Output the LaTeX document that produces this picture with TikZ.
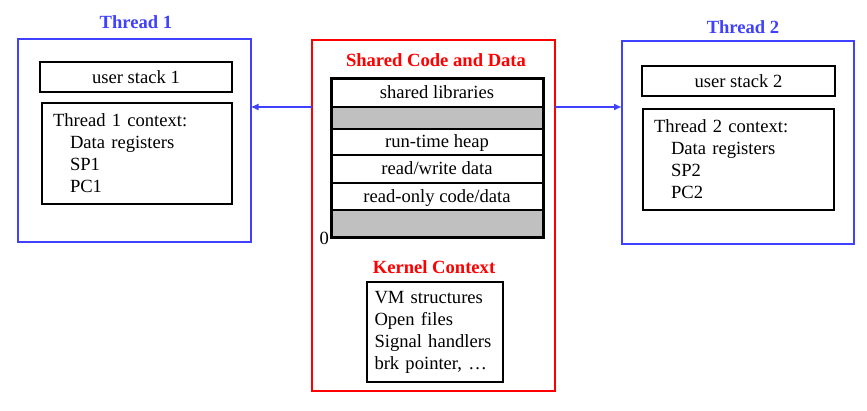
\documentclass[tikz,border=0pt]{standalone}
\usepackage{fontspec}
\setmainfont{Liberation Serif}
\usetikzlibrary{arrows.meta,positioning,calc}
\definecolor{thrblue}{RGB}{64,64,255}
\definecolor{memgray}{RGB}{192,192,192}

\begin{document}
\begin{tikzpicture}[x=1pt,y=-1pt,
    every node/.style={font=\fontsize{18.6}{22}\selectfont},
    outerbox/.style={draw,line width=2pt,inner sep=0pt,outer sep=0pt},
    innerbox/.style={draw,line width=1.8pt,inner sep=0pt,outer sep=0pt},
    ctxbox/.style={innerbox,align=left,inner xsep=11pt,minimum height=101pt},
    memrow/.style={draw,line width=1.3pt,minimum width=212pt,inner sep=0pt,outer sep=0pt,
        text height=14pt,text depth=2pt},
    title/.style={font=\fontsize{18.6}{22}\selectfont\bfseries},
    conn/.style={thrblue,line width=1.6pt,-{Latex[length=8pt,width=7pt]}}]

    \useasboundingbox (0,0) rectangle (867,411);

    % threads
    \node [outerbox,draw=thrblue,minimum width=233pt,minimum height=203pt] (thread1) at (134,140.5) {};
    \node [title,text=thrblue] (thread1title) at (136,22) {Thread 1};
    \node [innerbox,minimum width=192pt,minimum height=30pt] (ustack1) at (136,77) {user stack 1};
    \node [ctxbox,text width=168pt] (ctx1) at (137,153.5) {Thread 1 context:\\\hspace*{17pt}Data registers\\\hspace*{17pt}SP1\\\hspace*{17pt}PC1};

    \node [outerbox,draw=thrblue,minimum width=232pt,minimum height=203pt] (thread2) at (738,142.5) {};
    \node [title,text=thrblue] (thread2title) at (743,27) {Thread 2};
    \node [innerbox,minimum width=193pt,minimum height=30pt] (ustack2) at (738.5,81) {user stack 2};
    \node [ctxbox,text width=169pt] (ctx2) at (738.5,159.5) {Thread 2 context:\\\hspace*{17pt}Data registers\\\hspace*{17pt}SP2\\\hspace*{17pt}PC2};

    % shared code and data
    \node [outerbox,draw=red,minimum width=243pt,minimum height=351pt] (shared) at (433.5,215.5) {};
    \node [title,text=red] (sharedtitle) at (436,60) {Shared Code and Data};
    \node [memrow,minimum height=28pt] (shlib) at (437,93) {shared libraries};
    \node [memrow,minimum height=22pt,fill=memgray,below=0pt of shlib] (gap1) {};
    \node [memrow,minimum height=26pt,below=0pt of gap1] (heap) {run-time heap};
    \node [memrow,minimum height=28pt,below=0pt of heap] (rwdata) {read/write data};
    \node [memrow,minimum height=27pt,below=0pt of rwdata] (rodata) {read-only code/data};
    \node [memrow,minimum height=28pt,fill=memgray,below=0pt of rodata] (gap2) {};
    \draw [line width=3pt] (shlib.north west) rectangle (gap2.south east);
    \node [inner sep=0pt,left=2pt of gap2.south west] (zero) {0};

    % kernel context
    \node [title,text=red] (kerneltitle) at (434,267) {Kernel Context};
    \node [innerbox,align=left,text width=121pt,inner xsep=7.5pt,minimum height=100pt] (kernel) at (435,332) {VM structures\\Open files\\Signal handlers\\brk pointer, …};

    \draw [conn] (shared.west |- shlib.south) -- (thread1.east |- shlib.south);
    \draw [conn] (shared.east |- shlib.south) -- (thread2.west |- shlib.south);
\end{tikzpicture}
\end{document}
